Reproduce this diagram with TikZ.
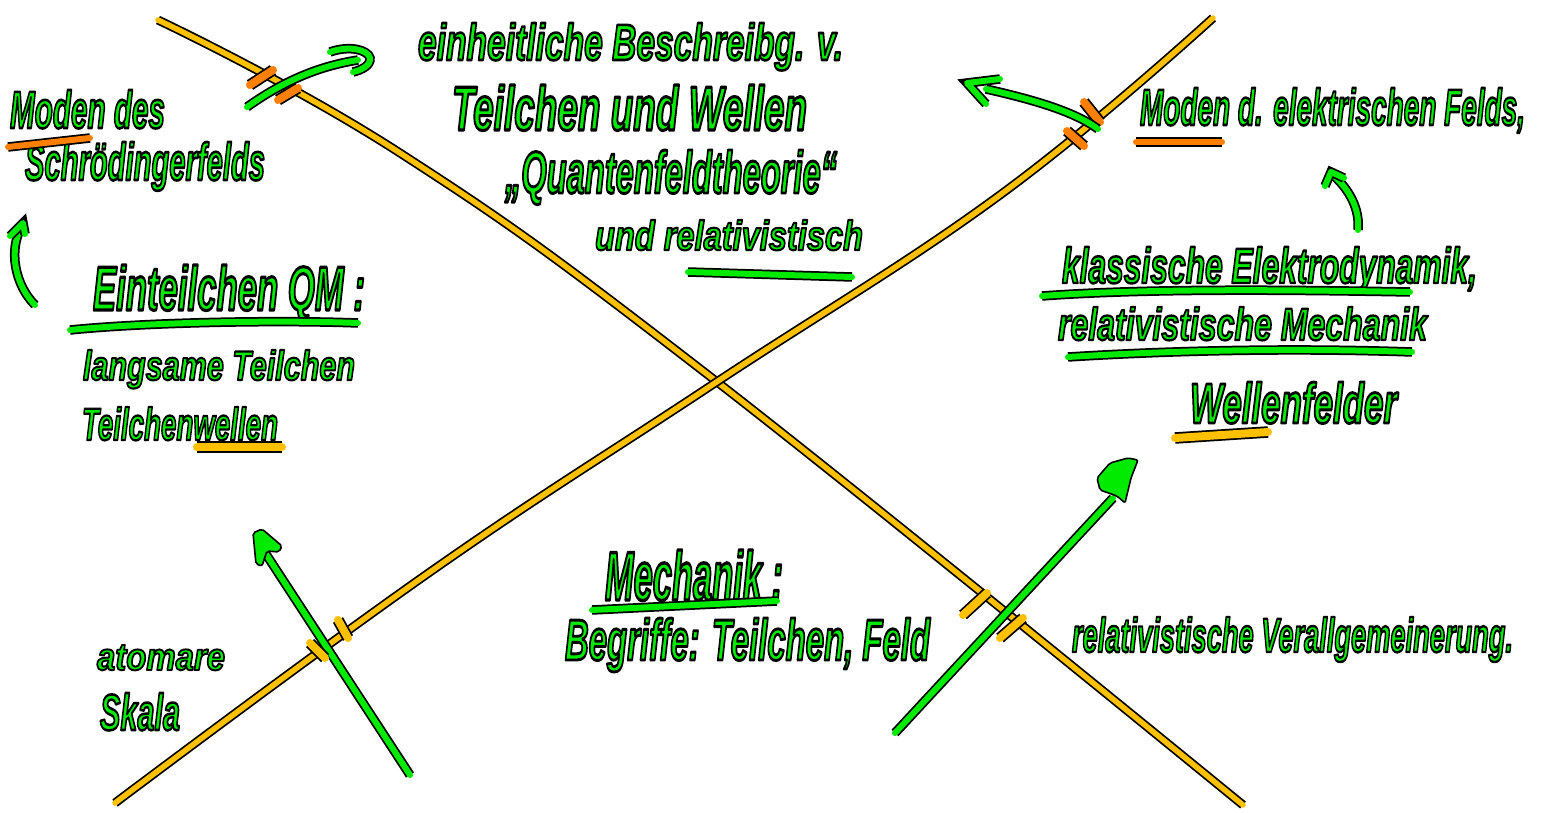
\documentclass[tikz,border=0pt]{standalone}
\usepackage{fontspec}
\usepackage{graphicx}
\newfontfamily\hwfont{Liberation Sans}
\definecolor{hwgreen}{RGB}{0,235,0}
\definecolor{hwyellow}{RGB}{255,192,0}
\definecolor{hworange}{RGB}{255,128,0}
% handwriting text: filled in the current colour, stroked in black,
% scaled to a given width and height
\newcommand{\hwt}[3]{\resizebox{#1pt}{#2pt}{%
  \special{pdf:literal direct 0 0 0 RG 1.8 w 1 j 1 J 2 Tr}#3%
  \special{pdf:literal direct 0 Tr}}}
\begin{document}
\begin{tikzpicture}[x=1pt,y=-1pt,
  hw/.style={inner sep=0pt, outer sep=0pt, anchor=base west, text=hwgreen,
    font=\hwfont\bfseries\itshape\fontsize{36}{40}\selectfont},
  inkpen/.style={line cap=round, line join=round,
    preaction={draw=black, line width=#1+3.5pt}, line width=#1},
  gstroke/.style={inkpen=6pt, draw=hwgreen},
  ystroke/.style={inkpen=5.5pt, draw=hwyellow},
  ytick/.style={inkpen=8pt, draw=hwyellow},
  otick/.style={inkpen=8pt, draw=hworange},
  ounder/.style={inkpen=6pt, draw=hworange},
  yunder/.style={inkpen=8pt, draw=hwyellow},
  ghead/.style={fill=hwgreen, draw=black, line width=1.6pt, line join=round, rounded corners=2pt}
]
\fill[white] (0,0) rectangle (1543,813);
\useasboundingbox (0,0) rectangle (1543,813);

% the two crossing axes
\draw[ystroke] plot[smooth, tension=0.7] coordinates {(158,20) (400,153) (712,378) (1243,805)};
\draw[ystroke] plot[smooth, tension=0.7] coordinates {(115,803) (430,572) (712,385) (1000,195) (1213,18)};

% tick marks on the axes
\draw[otick] (250,85) -- (273,70);
\draw[otick] (278,100) -- (298,88);
\draw[otick] (1084,102) -- (1100,122);
\draw[otick] (1067,131) -- (1084,146);

% arrows
\coordinate (a1s) at (247,107);
\coordinate (a1e) at (358,60);
\draw[gstroke] (a1s) .. controls (285,80) and (320,66) .. (a1e);
\draw[gstroke] (330,52) .. controls (350,45) and (368,50) .. (370,58) .. controls (371,65) and (362,70) .. (353,72);

\coordinate (a2s) at (1098,129);
\coordinate (a2e) at (986,89);
\draw[gstroke] (a2s) .. controls (1075,112) and (1035,100) .. (a2e);
\draw[gstroke] (1000,79) -- (967,83) -- (986,104);

\coordinate (a3s) at (1358,230);
\coordinate (a3e) at (1333,175);
\draw[gstroke] (a3s) .. controls (1360,210) and (1350,190) .. (a3e);
\draw[gstroke] (1325,186) -- (1331,172) -- (1344,178);

\coordinate (a4s) at (35,305);
\coordinate (a4e) at (22,226);
\draw[gstroke] (a4s) .. controls (15,285) and (8,250) .. (a4e);
\draw[gstroke] (10,236) -- (23,223) -- (25,234);

\coordinate (a5s) at (410,775);
\coordinate (a5e) at (262,548);
\draw[gstroke] (a5s) -- (a5e);
\draw[ghead] (253,533) -- (262,529) -- (282,546) -- (279,552) -- (267,551) -- (262,566) -- (256,564) -- cycle;

\draw[ytick] (310,643) -- (325,658);
\draw[ytick] (338,620) -- (348,638);

\coordinate (a6s) at (895,733);
\coordinate (a6e) at (1113,498);
\draw[gstroke] (a6s) -- (a6e);
\draw[ghead] (1097,478) -- (1110,463) -- (1128,458) -- (1138,460) -- (1131,478) -- (1125,503) -- (1117,496) -- (1100,490) -- cycle;

\draw[ytick] (963,615) -- (987,593);
\draw[ytick] (1000,638) -- (1023,618);

% text
\node[hw] (moden) at (10,128) {\hwt{155}{38}{Moden des}};
\node[hw] (schr) at (25,180) {\hwt{240}{38}{Schrödingerfelds}};
\node[hw] (einh) at (418,60) {\hwt{425}{37}{einheitliche Beschreibg. v.}};
\node[hw] (teil) at (452,130) {\hwt{355}{45}{Teilchen und Wellen}};
\node[hw] (qft) at (505,193) {\hwt{332}{43}{„Quantenfeldtheorie“}};
\node[hw] (rel) at (595,250) {\hwt{268}{30}{und relativistisch}};
\node[hw] (moem) at (1140,125) {\hwt{385}{37}{Moden d. elektrischen Felds,}};
\node[hw] (ked) at (1062,283) {\hwt{415}{36}{klassische Elektrodynamik,}};
\node[hw] (rmech) at (1058,340) {\hwt{369}{33}{relativistische Mechanik}};
\node[hw] (wf) at (1190,423) {\hwt{207}{41}{Wellenfelder}};
\node[hw] (eqm) at (93,310) {\hwt{272}{45}{Einteilchen QM :}};
\node[hw] (lt) at (83,380) {\hwt{272}{30}{langsame Teilchen}};
\node[hw] (tw) at (82,440) {\hwt{196}{33}{Teilchenwellen}};
\node[hw] (mech) at (605,600) {\hwt{178}{50}{Mechanik :}};
\node[hw] (begr) at (565,660) {\hwt{365}{42}{Begriffe: Teilchen, Feld}};
\node[hw] (rv) at (1072,652) {\hwt{441}{35}{relativistische Verallgemeinerung.}};
\node[hw] (atom) at (97,670) {\hwt{128}{25}{atomare}};
\node[hw] (skala) at (100,730) {\hwt{80}{37}{Skala}};

% underlines
\draw[ounder] (8,147) -- (90,138);
\draw[ounder] (1136,142) -- (1222,142);
\draw[gstroke] (688,272) -- (852,277);
\draw[gstroke] (1042,296) .. controls (1150,288) and (1300,290) .. (1410,292);
\draw[gstroke] (1068,357) .. controls (1180,350) and (1300,348) .. (1412,352);
\draw[gstroke] (70,330) .. controls (150,322) and (280,320) .. (358,323);
\draw[gstroke] (592,610) -- (777,601);
\draw[yunder] (1175,438) -- (1268,432);
\draw[yunder] (197,447) -- (282,447);
\end{tikzpicture}
\end{document}
